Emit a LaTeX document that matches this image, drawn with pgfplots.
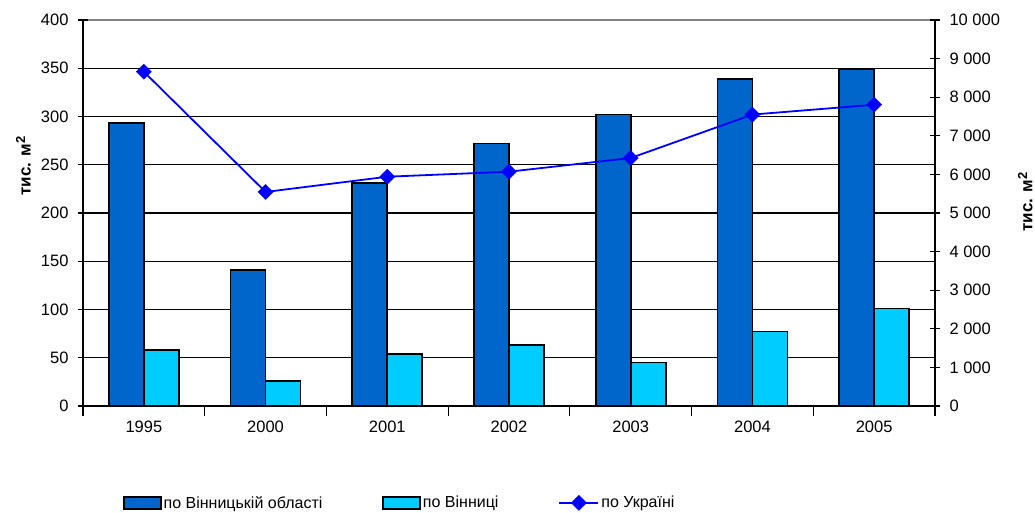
\documentclass[border=0pt]{standalone}
\usepackage{pgfplots}
\pgfplotsset{compat=1.18}
\usepackage{fontspec}
\setmainfont{Liberation Sans}

\definecolor{oblast}{RGB}{0,102,204}
\definecolor{misto}{RGB}{0,204,255}
\definecolor{ukraina}{RGB}{0,0,255}

\newcommand{\unitlabel}{\textbf{тис. м\raisebox{0.6ex}{\fontsize{13}{13}\selectfont 2}}}

\pgfplotsset{
  common/.style={
    at={(83pt,106pt)}, anchor=south west,
    scale only axis, width=852pt, height=386pt,
    xmin=-0.5, xmax=6.5,
    tick align=center, major tick length=10pt, minor tick length=10pt,
    tick style={black, line width=1.1pt},
    axis line style={black, line width=1.2pt},
    tick label style={font=\fontsize{16.5}{19}\selectfont},
    /pgf/number format/assume math mode=true,
    /pgf/number format/1000 sep={\ },
    scaled y ticks=false,
  },
  barlegend/.style={legend image code/.code={\draw[##1] (0pt,-6pt) rectangle (37pt,6pt);}},
  linelegend/.style={legend image code/.code={%
    \draw[##1, mark repeat=2, mark phase=2] plot coordinates {(0pt,0pt) (19.5pt,0pt) (39pt,0pt)};}},
}

\begin{document}
\begin{tikzpicture}
\useasboundingbox (0,0) rectangle (1035pt,512pt);

% bars: left scale, thousand square metres
\begin{axis}[common,
  axis x line*=bottom, axis y line*=left,
  ymin=0, ymax=400,
  ytick={0,50,...,350},
  extra y ticks={400},
  extra y tick style={grid style={gray, line width=1.5pt}},
  ymajorgrids=true,
  grid style={black, line width=1.4pt},
  xtick={-0.5,0.5,...,6.5},
  xticklabels={},
  xticklabel shift=11pt,
  extra x ticks={0,...,6},
  extra x tick labels={1995,2000,2001,2002,2003,2004,2005},
  extra x tick style={major tick length=0pt, tick style={draw=none},
    xticklabel shift=11pt},
  yticklabel style={xshift=-6pt},
  ylabel={\unitlabel},
  every axis y label/.style={at={(axis description cs:-0.07,0.622)}, rotate=90, anchor=center,
    font=\fontsize{17}{20}\selectfont},
  ybar=0pt, bar width=35pt,
]
\addplot[fill=oblast, draw=black, line width=1.6pt, bar shift=-17.5pt]
  coordinates {(0,293) (1,141) (2,231) (3,272) (4,302) (5,339) (6,349)};
\addplot[fill=misto, draw=black, line width=1.6pt, bar shift=17.5pt]
  coordinates {(0,58) (1,26) (2,54) (3,63) (4,45) (5,77) (6,101)};
\end{axis}

% line: right scale, Ukraine total
\begin{axis}[common,
  axis x line=none, axis y line*=right,
  ymin=0, ymax=10000,
  ytick={0,1000,...,10000},
  yticklabel style={xshift=6pt},
  ylabel={\unitlabel},
  every axis y label/.style={at={(axis description cs:1.106,0.528)}, rotate=90, anchor=center,
    font=\fontsize{17}{20}\selectfont},
  legend columns=3,
  legend style={draw=none, fill=none, inner sep=0pt, outer sep=0pt,
    at={(axis description cs:0.047,-0.251)}, anchor=west,
    font=\fontsize{16}{19}\selectfont,
    nodes={inner sep=2pt},
    /tikz/every even column/.append style={column sep=58pt}},
]
\addlegendimage{barlegend, fill=oblast, draw=black, line width=1.6pt}
\addlegendentry{по Вінницькій області}
\addlegendimage{barlegend, fill=misto, draw=black, line width=1.6pt}
\addlegendentry{по Вінниці}
\addplot[ukraina, line width=1.8pt, mark=square*, mark size=5.3pt,
  mark options={rotate=45, fill=ukraina, draw=ukraina, line width=0.5pt}, linelegend]
  coordinates {(0,8660) (1,5545) (2,5940) (3,6070) (4,6425) (5,7550) (6,7805)};
\addlegendentry{по Україні}
\end{axis}
\end{tikzpicture}
\end{document}
